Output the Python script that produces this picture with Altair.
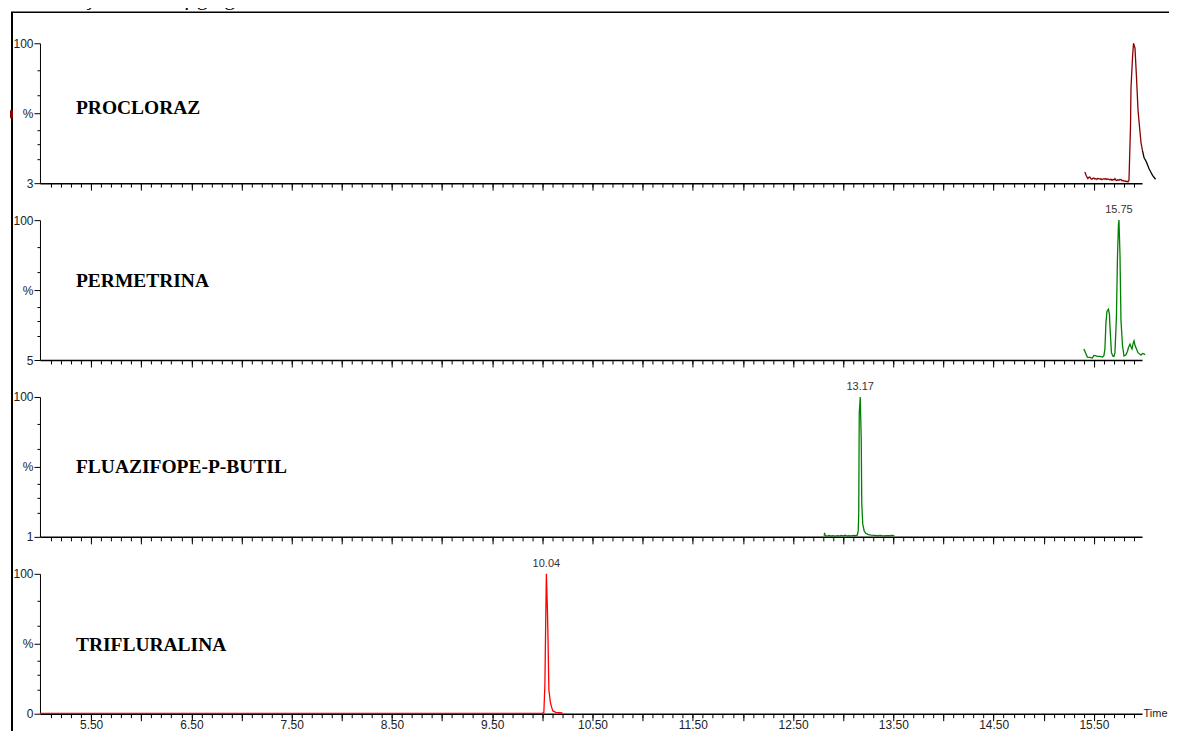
import altair as alt
import pandas as pd

# ---------------- data ----------------
caption = "concentração de 100 µg kg⁻¹."
names = ["PROCLORAZ", "PERMETRINA", "FLUAZIFOPE-P-BUTIL", "TRIFLURALINA"]
y_bottoms = [3, 5, 1, 0]
peak_labels = [None, "15.75", "13.17", "10.04"]
peak_times = [None, 15.75, 13.17, 10.04]

x_major_ticks = [5.5, 6.0, 6.5, 7.0, 7.5, 8.0, 8.5, 9.0, 9.5, 10.0, 10.5,
                 11.0, 11.5, 12.0, 12.5, 13.0, 13.5, 14.0, 14.5, 15.0, 15.5]
x_tick_labels = ["5.50", "6.50", "7.50", "8.50", "9.50", "10.50",
                 "11.50", "12.50", "13.50", "14.50", "15.50"]

# PROCLORAZ (dark red part, then black tail past the axis end)
proc_t = [15.41, 15.425, 15.44, 15.45, 15.46, 15.47, 15.48, 15.49, 15.50, 15.51,
          15.52, 15.53, 15.54, 15.55, 15.56, 15.57, 15.58, 15.59, 15.60, 15.61,
          15.62, 15.63, 15.64, 15.65, 15.66, 15.67, 15.68, 15.69, 15.70, 15.71,
          15.72, 15.73, 15.74, 15.75, 15.76, 15.77, 15.78, 15.79, 15.80, 15.81,
          15.82, 15.83, 15.84, 15.85, 15.865, 15.87, 15.885, 15.895, 15.91,
          15.925, 15.94, 15.955, 15.97, 15.985]
proc_v = [10.7, 8.0, 6.2, 7.0, 7.3, 6.0, 5.7, 6.4, 6.6, 5.9,
          6.1, 5.6, 6.3, 6.2, 5.8, 6.0, 5.4, 5.9, 6.1, 5.7,
          6.2, 5.5, 5.9, 5.7, 5.2, 5.8, 5.0, 5.6, 5.3, 6.2,
          5.1, 4.8, 5.4, 5.0, 5.6, 5.5, 4.7, 4.9, 4.4, 4.6,
          4.1, 4.3, 3.9, 5.0, 42.0, 69.0, 89.8, 100.0, 96.6,
          76.0, 53.7, 42.0, 31.0, 25.4]
proc_tail_t = [15.985, 16.0, 16.025, 16.05, 16.085, 16.115]
proc_tail_v = [25.4, 20.8, 17.5, 13.0, 8.4, 5.7]

# PERMETRINA
perm_t = [15.40, 15.435, 15.46, 15.485, 15.50, 15.52, 15.535, 15.56, 15.585, 15.60,
          15.61, 15.62, 15.63, 15.645, 15.655, 15.66, 15.675, 15.69, 15.70, 15.71,
          15.725, 15.735, 15.745, 15.75, 15.76, 15.77, 15.785, 15.80, 15.82, 15.835,
          15.845, 15.86, 15.87, 15.88, 15.89, 15.90, 15.91, 15.925, 15.94, 15.97,
          15.985, 16.0, 16.01]
perm_v = [12.5, 7.0, 6.8, 6.3, 8.1, 7.8, 7.5, 7.4, 7.0, 8.0,
          12.5, 30.0, 38.0, 39.5, 36.0, 28.0, 10.0, 7.6, 7.4, 10.0,
          34.7, 74.6, 97.0, 100.0, 77.0, 32.0, 15.0, 7.7, 8.5, 11.0,
          13.5, 15.8, 14.0, 12.5, 16.0, 18.0, 15.0, 12.5, 10.0, 8.3,
          9.5, 9.2, 8.5]

# FLUAZIFOPE-P-BUTIL
flua_t = [12.81, 12.815, 12.82, 12.84, 12.86, 12.88, 12.90, 12.92, 12.94, 12.96,
          12.98, 13.00, 13.02, 13.04, 13.06, 13.08, 13.10, 13.12, 13.14, 13.15,
          13.155, 13.16, 13.17, 13.18, 13.185, 13.195, 13.21, 13.225, 13.25, 13.28,
          13.31, 13.34, 13.37, 13.40, 13.43, 13.46, 13.49, 13.51]
flua_v = [1.8, 3.8, 1.8, 1.5, 2.0, 1.6, 1.9, 1.5, 1.8, 1.6,
          2.0, 1.7, 2.2, 1.6, 1.9, 1.7, 2.0, 1.8, 2.2, 5.0,
          18.0, 88.0, 100.0, 70.0, 25.0, 10.0, 5.0, 3.5, 2.6, 2.2,
          2.0, 1.8, 2.0, 1.7, 1.9, 1.8, 2.0, 1.9]

# TRIFLURALINA
trif_t = [4.99, 6.0, 7.0, 8.0, 9.0, 10.0, 10.015, 10.025, 10.03, 10.04,
          10.05, 10.055, 10.065, 10.08, 10.095, 10.105, 10.135, 10.2]
trif_v = [0.3, 0.3, 0.3, 0.3, 0.3, 0.3, 1.0, 20.0, 47.0, 100.0,
          75.0, 59.0, 17.0, 8.0, 4.0, 2.0, 1.0, 0.5]

series = [
    [(proc_t, proc_v, "#8b0000"), (proc_tail_t, proc_tail_v, "#000000")],
    [(perm_t, perm_v, "#008000")],
    [(flua_t, flua_v, "#008000")],
    [(trif_t, trif_v, "#ff0000")],
]

# ---------------- layout ----------------
W, H = 1103, 140
SPACING = 37
X_DOMAIN = [4.99, 15.98]
FONT = "Liberation Sans"
name_y = [65, 61, 70, 71]
x_minor_ticks = [round(5.1 + 0.1 * k, 2) for k in range(109)]
one = pd.DataFrame({"a": [0]})


def panel(i):
    first, last = i == 0, i == 3
    ymin = y_bottoms[i]
    span = 100 - ymin
    mid = ymin + span / 2
    y_major = [ymin, mid, 100]
    y_minor = [100 - f * span for f in [0.19, 0.37, 0.62, 0.72, 0.83]]
    xs = alt.Scale(domain=X_DOMAIN, nice=False, zero=False)
    ys = alt.Scale(domain=[ymin, 100], nice=False, zero=False)

    xkw = dict(orient="bottom", values=x_major_ticks, tickSize=7, tickColor="black",
               tickWidth=1, domainColor="black", domainWidth=1.5, grid=False,
               labelOverlap=False, labelFlush=False)
    if last:
        lab_list = "[" + ",".join("'" + s + "'" for s in x_tick_labels) + "]"
        xax = alt.Axis(**xkw, labels=True,
                       labelExpr="indexof(" + lab_list + ", format(datum.value, '.2f')) >= 0 ? format(datum.value, '.2f') : ''",
                       labelFont=FONT, labelFontSize=12, labelColor="#222",
                       labelPadding=-1, title="Time", titleX=1104, titleY=0,
                       titleAlign="left", titleBaseline="middle", titleFont=FONT,
                       titleFontSize=11, titleFontWeight="normal", titleColor="#222")
    else:
        xax = alt.Axis(**xkw, labels=False, title=None)
    yax = alt.Axis(orient="left", values=y_major, tickSize=6, tickColor="black",
                   domainColor="black", domainWidth=1, grid=False, labelFont=FONT,
                   labelFontSize=12, labelColor="#222", labelPadding=1,
                   labelOverlap=False, labelFlush=False,
                   labelExpr=f"abs(datum.value - {mid}) < 0.001 ? '%' : format(datum.value, 'd')",
                   title=None)
    xminor = alt.Axis(orient="bottom", values=x_minor_ticks, tickSize=4, tickColor="black",
                      domain=False, labels=False, grid=False, title=None)
    yminor = alt.Axis(orient="left", values=y_minor, tickSize=3, tickColor="black",
                      domain=False, labels=False, grid=False, title=None)

    layers = []
    df0 = None
    for j, (t, v, col) in enumerate(series[i]):
        df = pd.DataFrame({"t": t, "v": v})
        if j == 0:
            df0 = df
        layers.append(
            alt.Chart(df).mark_line(color=col, strokeWidth=1.3).encode(
                x=alt.X("t:Q", scale=xs, axis=xax if j == 0 else None),
                y=alt.Y("v:Q", scale=ys, axis=yax if j == 0 else None),
            )
        )
    layers.append(
        alt.Chart(df0).mark_line(opacity=0).encode(
            x=alt.X("t:Q", scale=xs, axis=xminor),
            y=alt.Y("v:Q", scale=ys, axis=yminor),
        )
    )
    # compound name
    layers.append(
        alt.Chart(one).mark_text(text=names[i], align="left", baseline="middle",
                                 font="Liberation Serif", fontWeight="bold",
                                 fontSize=19.5, color="black")
        .encode(x=alt.value(36), y=alt.value(name_y[i]))
    )
    # peak label
    if peak_labels[i]:
        pdf = pd.DataFrame({"t": [peak_times[i]], "v": [100], "lab": [peak_labels[i]]})
        layers.append(
            alt.Chart(pdf).mark_text(dy=-10, font=FONT, fontSize=11, color="#333",
                                     baseline="middle")
            .encode(x=alt.X("t:Q", scale=xs, axis=None),
                    y=alt.Y("v:Q", scale=ys, axis=None), text="lab:N")
        )
    # frame (left line)
    top = -31 if first else -40
    bot = 200 if last else H + 40
    layers.append(
        alt.Chart(one).mark_rule(color="black", strokeWidth=2)
        .encode(x=alt.value(-28), y=alt.value(top), y2=alt.value(bot))
    )
    if first:
        layers.append(
            alt.Chart(one).mark_rule(color="black", strokeWidth=1.5)
            .encode(x=alt.value(-29), x2=alt.value(1200), y=alt.value(-31))
        )
        layers.append(
            alt.Chart(one).mark_rect(color="#8b0000")
            .encode(x=alt.value(-30), x2=alt.value(-27), y=alt.value(67), y2=alt.value(75))
        )
        layers.append(
            alt.Chart(one).mark_text(text=caption, align="left", baseline="alphabetic",
                                     font="Liberation Serif", fontSize=22, color="black")
            .encode(x=alt.value(-42), y=alt.value(-38))
        )
        # invisible box fixing the drawing bounds
        layers.append(
            alt.Chart(one).mark_rect(opacity=0)
            .encode(x=alt.value(-60), x2=alt.value(1200), y=alt.value(-80), y2=alt.value(760))
        )
    return (alt.layer(*layers).properties(width=W, height=H)
            .resolve_axis(x="independent", y="independent"))


chart = (
    alt.vconcat(*[panel(i) for i in range(4)], spacing=SPACING, bounds="flush")
    .properties(padding={"left": -28, "top": -45, "right": -71, "bottom": -72})
    .configure_view(strokeWidth=0)
)

chart.save("out.html", embed_options={"renderer": "svg", "actions": False})
